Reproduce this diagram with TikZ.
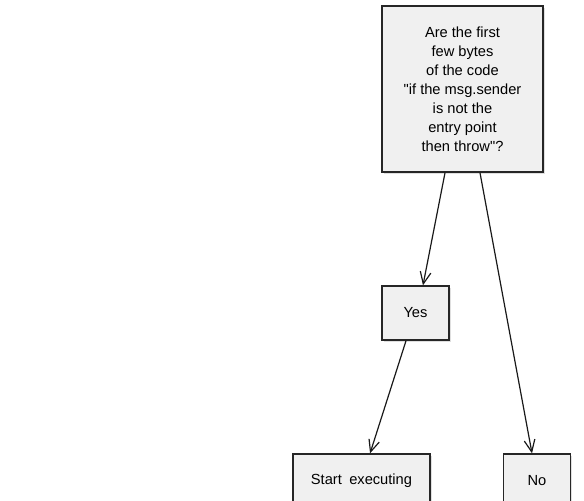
\documentclass[tikz,border=0pt]{standalone}
\usepackage{fontspec}
\setmainfont{Liberation Sans}
\usetikzlibrary{arrows.meta,shadows}

\tikzset{every picture/.style={line width=0.75pt}}
\tikzset{
  sketchbox/.style={draw=black!85, line width=1pt, fill=black!6, drop shadow={opacity=0.25, shadow xshift=1.2pt, shadow yshift=-1.2pt},
    align=center, font=\fontsize{11pt}{14.2pt}\selectfont, inner sep=2pt},
  flow/.style={draw=black!90, line width=0.9pt, -{Straight Barb[length=9pt,width=8pt]}}
}

\begin{document}
\begin{tikzpicture}[x=0.75pt,y=0.75pt,yscale=-1,xscale=1]
%set diagram left start at 0, and has height of 500
\useasboundingbox (0,0) rectangle (584,500);
\clip (0,0) rectangle (584,500);

% Question box
\node [sketchbox, minimum width=120.75pt, minimum height=124.5pt] (question) at (462.5,89) {Are the first\\few bytes\\of the code\\\textquotedbl if the msg.sender\\is not the\\entry point\\then throw\textquotedbl?};

% Answers
\node [sketchbox, minimum width=50.25pt, minimum height=40.5pt] (yes) at (415.5,313) {Yes};
\node [sketchbox, minimum width=50.25pt, minimum height=40.5pt] (no) at (537,481) {No};
\node [sketchbox, minimum width=102.75pt, minimum height=40.5pt] (start) at (361.5,481) {Start\hspace{0.5em}executing};

% Connectors
\draw [flow] ([xshift=-13.1pt]question.south) -- ([xshift=5.6pt]yes.north);
\draw [flow] ([xshift=13.1pt]question.south) -- ([xshift=-3.75pt]no.north);
\draw [flow] ([xshift=-7.1pt]yes.south) -- ([xshift=6.4pt]start.north);
\end{tikzpicture}
\end{document}
